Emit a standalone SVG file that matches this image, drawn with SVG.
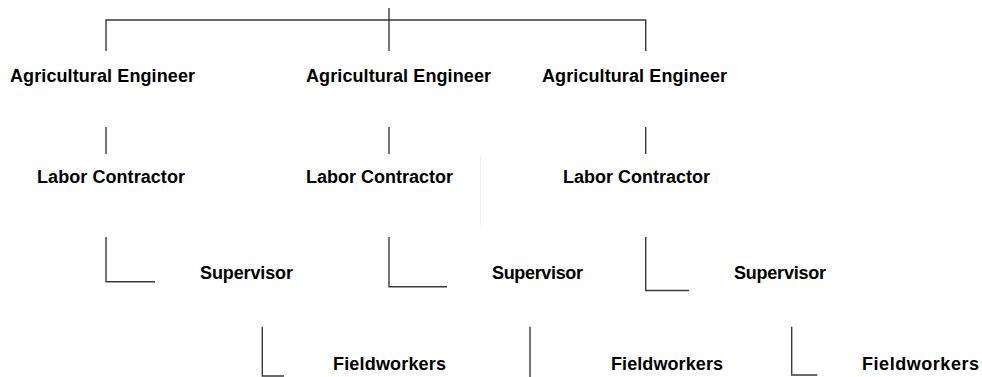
<svg xmlns="http://www.w3.org/2000/svg" width="982" height="377" viewBox="0 0 982 377">
<style>
.c{fill:none;stroke:#3a3a3a;stroke-width:1.4;stroke-linecap:butt}
.t{font-family:"Liberation Sans",Arial,sans-serif;font-weight:bold;font-size:18px;fill:#000}
</style>
<rect width="982" height="377" fill="#fff"/>
<g id="connectors">
<path class="c" d="M106,51V20H645.7V51"/>
<path class="c" d="M389,8V51"/>
<path class="c" d="M106,127V154M389,127V154M645.7,127V154"/>
<path class="c" d="M106,237V281.7H155"/>
<path class="c" d="M389,237V286.7H447"/>
<path class="c" d="M645.7,237V290.5H689"/>
<path class="c" d="M262.3,326.7V376H284"/>
<path class="c" d="M530,326.7V377"/>
<path class="c" d="M791.7,326.7V375H817.3"/>
<path d="M480.5,155V226" fill="none" stroke="#f0f0f0" stroke-width="1"/>
</g>
<g id="eng1"><text class="t" x="10" y="82" textLength="185">Agricultural Engineer</text></g>
<g id="eng2"><text class="t" x="306" y="82" textLength="185">Agricultural Engineer</text></g>
<g id="eng3"><text class="t" x="542" y="82" textLength="185">Agricultural Engineer</text></g>
<g id="lab1"><text class="t" x="37" y="183" textLength="148">Labor Contractor</text></g>
<g id="lab2"><text class="t" x="306" y="183" textLength="147">Labor Contractor</text></g>
<g id="lab3"><text class="t" x="563" y="183" textLength="147">Labor Contractor</text></g>
<g id="sup1"><text class="t" x="200" y="279" textLength="93">Supervisor</text></g>
<g id="sup2"><text class="t" x="492" y="279" textLength="91">Supervisor</text></g>
<g id="sup3"><text class="t" x="734" y="279" textLength="92">Supervisor</text></g>
<g id="fw1"><text class="t" x="333" y="370" textLength="113">Fieldworkers</text></g>
<g id="fw2"><text class="t" x="611" y="370" textLength="112">Fieldworkers</text></g>
<g id="fw3"><text class="t" x="862" y="370" textLength="117">Fieldworkers</text></g>
</svg>
